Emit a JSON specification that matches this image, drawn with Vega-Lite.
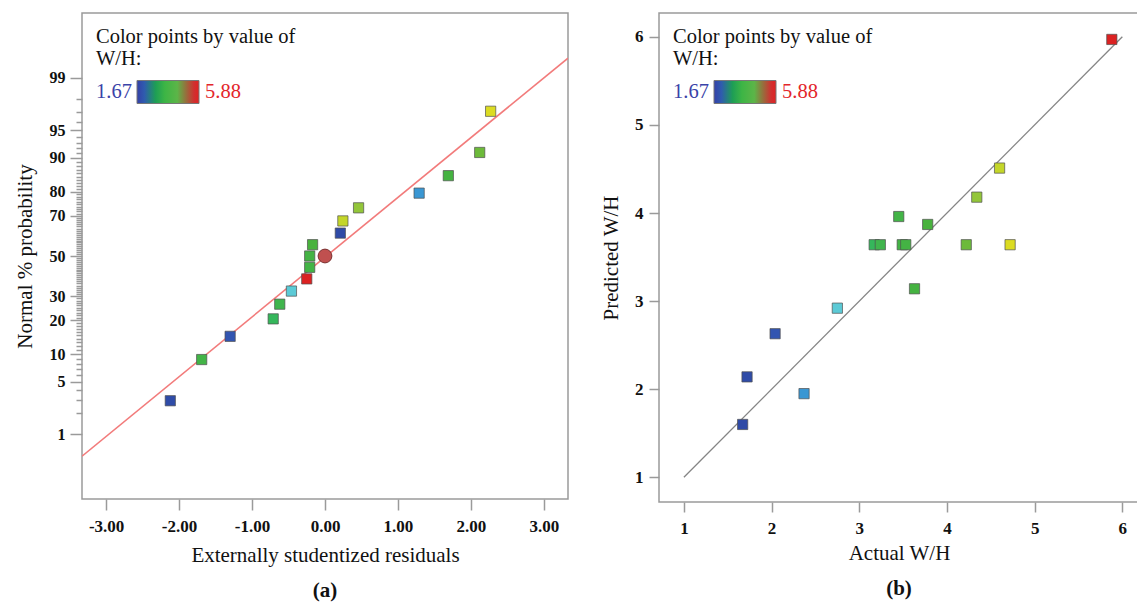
{
  "$schema": "https://vega.github.io/schema/vega-lite/v6.json",
  "background": "white",
  "padding": {"left": 13, "top": 12, "right": 0, "bottom": 0},
  "spacing": 30,
  "config": {
    "font": "Liberation Serif",
    "view": {"stroke": "#9a9a9a", "strokeWidth": 1.5},
    "axis": {"domain": false, "grid": false, "tickColor": "#9a9a9a", "tickWidth": 1.5},
    "title": {"font": "Liberation Serif", "fontSize": 21, "fontWeight": "bold", "color": "#111111"}
  },
  "datasets": {
    "probability": [
      {"run": 1, "residual": -2.12, "probability": 2.94, "quantile": -1.890, "WH": 1.72},
      {"run": 2, "residual": -1.69, "probability": 8.82, "quantile": -1.352, "WH": 3.45},
      {"run": 3, "residual": -1.30, "probability": 14.71, "quantile": -1.049, "WH": 2.04},
      {"run": 4, "residual": -0.71, "probability": 20.59, "quantile": -0.821, "WH": 3.17},
      {"run": 5, "residual": -0.62, "probability": 26.47, "quantile": -0.629, "WH": 3.24},
      {"run": 6, "residual": -0.46, "probability": 32.35, "quantile": -0.458, "WH": 2.75},
      {"run": 7, "residual": -0.25, "probability": 38.24, "quantile": -0.299, "WH": 5.88},
      {"run": 8, "residual": -0.21, "probability": 44.12, "quantile": -0.148, "WH": 3.49},
      {"run": 9, "residual": -0.21, "probability": 50.00, "quantile": 0.0, "WH": 3.53},
      {"run": 10, "residual": -0.17, "probability": 55.88, "quantile": 0.148, "WH": 3.78},
      {"run": 11, "residual": 0.21, "probability": 61.76, "quantile": 0.299, "WH": 1.67},
      {"run": 12, "residual": 0.245, "probability": 67.65, "quantile": 0.458, "WH": 4.60},
      {"run": 13, "residual": 0.46, "probability": 73.53, "quantile": 0.629, "WH": 4.34},
      {"run": 14, "residual": 1.29, "probability": 79.41, "quantile": 0.821, "WH": 2.37},
      {"run": 15, "residual": 1.69, "probability": 85.29, "quantile": 1.049, "WH": 3.63},
      {"run": 16, "residual": 2.12, "probability": 91.18, "quantile": 1.352, "WH": 4.22},
      {"run": 17, "residual": 2.27, "probability": 97.06, "quantile": 1.890, "WH": 4.72}
    ],
    "fitline": [
      {"residual": -3.33, "quantile": -2.614},
      {"residual": 3.33, "quantile": 2.584}
    ],
    "marker": [
      {"residual": 0.0, "quantile": 0.0}
    ],
    "parity": [
      {"actual": 1.67, "predicted": 1.60},
      {"actual": 1.72, "predicted": 2.14},
      {"actual": 2.04, "predicted": 2.63},
      {"actual": 2.37, "predicted": 1.95},
      {"actual": 2.75, "predicted": 2.92},
      {"actual": 3.17, "predicted": 3.64},
      {"actual": 3.24, "predicted": 3.64},
      {"actual": 3.45, "predicted": 3.96},
      {"actual": 3.49, "predicted": 3.64},
      {"actual": 3.53, "predicted": 3.64},
      {"actual": 3.63, "predicted": 3.14},
      {"actual": 3.78, "predicted": 3.87},
      {"actual": 4.22, "predicted": 3.64},
      {"actual": 4.34, "predicted": 4.18},
      {"actual": 4.60, "predicted": 4.51},
      {"actual": 4.72, "predicted": 3.64},
      {"actual": 5.88, "predicted": 5.97}
    ],
    "diagonal": [
      {"actual": 1, "predicted": 1},
      {"actual": 6, "predicted": 6}
    ]
  },
  "hconcat": [
    {
      "width": 486,
      "height": 486,
      "title": {"text": "(a)", "orient": "bottom", "anchor": "middle", "frame": "group", "offset": 15},
      "encoding": {
        "x": {
          "field": "residual", "type": "quantitative",
          "scale": {"domain": [-3.33, 3.33], "nice": false, "zero": false},
          "axis": {
            "values": [-3, -2, -1, 0, 1, 2, 3],
            "labelExpr": "replace(format(datum.value, '.2f'), '\u2212', '-')",
            "title": "Externally studentized residuals", "tickSize": 11, "labelPadding": 8, "titlePadding": 10,
            "labelFont": "Liberation Serif", "labelFontSize": 17, "labelFontWeight": "bold", "labelColor": "#111111",
            "titleFont": "Liberation Serif", "titleFontSize": 21, "titleFontWeight": "normal", "titleColor": "#111111"
          }
        },
        "y": {
          "field": "quantile", "type": "quantitative",
          "scale": {"domain": [-3.173, 3.173], "nice": false, "zero": false},
          "axis": {
            "title": "Normal % probability", "titlePadding": 14, "labelOverlap": false, "labelFlush": false, "labelPadding": 5,
            "labelFont": "Liberation Serif", "labelFontSize": 16, "labelFontWeight": "bold", "labelColor": "#111111",
            "titleFont": "Liberation Serif", "titleFontSize": 21, "titleFontWeight": "normal", "titleColor": "#111111",
            "values": [-2.3263, -2.0537, -1.8808, -1.7507, -1.6449, -1.5548, -1.4758, -1.4051, -1.3408, -1.2816, -1.2265, -1.175, -1.1264, -1.0803, -1.0364, -0.9945, -0.9542, -0.9154, -0.8779, -0.8416, -0.8064, -0.7722, -0.7388, -0.7063, -0.6745, -0.6433, -0.6128, -0.5828, -0.5534, -0.5244, -0.4959, -0.4677, -0.4399, -0.4125, -0.3853, -0.3585, -0.3319, -0.3055, -0.2793, -0.2533, -0.2275, -0.2019, -0.1764, -0.151, -0.1257, -0.1004, -0.0753, -0.0502, -0.0251, 0, 0.0251, 0.0502, 0.0753, 0.1004, 0.1257, 0.151, 0.1764, 0.2019, 0.2275, 0.2533, 0.2793, 0.3055, 0.3319, 0.3585, 0.3853, 0.4125, 0.4399, 0.4677, 0.4959, 0.5244, 0.5534, 0.5828, 0.6128, 0.6433, 0.6745, 0.7063, 0.7388, 0.7722, 0.8064, 0.8416, 0.8779, 0.9154, 0.9542, 0.9945, 1.0364, 1.0803, 1.1264, 1.175, 1.2265, 1.2816, 1.3408, 1.4051, 1.4758, 1.5548, 1.6449, 1.7507, 1.8808, 2.0537, 2.3263],
            "labelExpr": "indexof([1, 5, 10, 20, 30, 50, 70, 80, 90, 95, 99], round(100 * cumulativeNormal(datum.value))) >= 0 ? '' + round(100 * cumulativeNormal(datum.value)) : ''",
            "tickSize": {"condition": {"test": "indexof([1, 5, 10, 20, 30, 50, 70, 80, 90, 95, 99], round(100 * cumulativeNormal(datum.value))) >= 0", "value": 12}, "value": 6}
          }
        }
      },
      "layer": [
        {
          "data": {"name": "fitline"},
          "mark": {"type": "line", "color": "#f27b7b", "strokeWidth": 1.6, "clip": true}
        },
        {
          "data": {"name": "probability"},
          "mark": {"type": "point", "shape": "square", "filled": true, "size": 105, "opacity": 1, "stroke": "#505050", "strokeWidth": 0.7},
          "encoding": {
            "color": {
              "field": "WH", "type": "quantitative",
              "scale": {"domain": [1.67, 2.1, 2.37, 2.75, 3.2, 3.8, 4.22, 4.34, 4.72, 5.88], "range": ["#2f4aa6", "#3357b3", "#3a97d3", "#5ccad6", "#3fb54e", "#48b23c", "#6cba3a", "#93c63a", "#dcdc22", "#dc2222"]},
              "legend": {
                "title": ["Color points by value of", "W/H:"], "values": [1.67, 5.88], "format": ".2f",
                "orient": "top-left", "offset": 14, "direction": "horizontal", "padding": 0,
                "gradientLength": 62, "gradientThickness": 23, "gradientStrokeColor": "#777777", "gradientStrokeWidth": 1,
                "titleFont": "Liberation Serif", "titleFontSize": 20.5, "titleFontWeight": "normal", "titleColor": "#111111",
                "titleLineHeight": 22, "titlePadding": 11, "titleLimit": 400,
                "labelFont": "Liberation Serif", "labelFontSize": 20.5, "labelOffset": -11.5,
                "labelColor": {"expr": "datum.value < 3 ? '#3a43a8' : '#e3262b'"},
                "encoding": {
                  "gradient": {
                    "x": {"value": 41},
                    "fill": {"value": {"gradient": "linear", "x1": 0, "y1": 0, "x2": 1, "y2": 0, "stops": [
                      {"offset": 0, "color": "#3440a8"},
                      {"offset": 0.12, "color": "#2f5cae"},
                      {"offset": 0.3, "color": "#1e9e55"},
                      {"offset": 0.45, "color": "#3db545"},
                      {"offset": 0.65, "color": "#5cb548"},
                      {"offset": 0.8, "color": "#9a6a3c"},
                      {"offset": 0.92, "color": "#d03030"},
                      {"offset": 1, "color": "#e02222"}
                    ]}}
                  },
                  "labels": {
                    "align": {"value": "left"},
                    "baseline": {"value": "middle"},
                    "dx": {"condition": {"test": "datum.value < 3", "value": 0}, "value": 47}
                  }
                }
              }
            }
          }
        },
        {
          "data": {"name": "marker"},
          "mark": {"type": "point", "shape": "circle", "filled": true, "size": 190, "opacity": 1, "color": "#c0504f", "stroke": "#7a3030", "strokeWidth": 1}
        }
      ]
    },
    {
      "width": 480,
      "height": 489,
      "title": {"text": "(b)", "orient": "bottom", "anchor": "middle", "frame": "group", "offset": 15},
      "encoding": {
        "x": {
          "field": "actual", "type": "quantitative",
          "scale": {"domain": [0.716, 6.19], "nice": false, "zero": false},
          "axis": {
            "values": [1, 2, 3, 4, 5, 6], "format": "d", "title": "Actual W/H", "tickSize": 10, "labelPadding": 8, "titlePadding": 6,
            "labelFont": "Liberation Serif", "labelFontSize": 17, "labelFontWeight": "bold", "labelColor": "#111111",
            "titleFont": "Liberation Serif", "titleFontSize": 21, "titleFontWeight": "normal", "titleColor": "#111111"
          }
        },
        "y": {
          "field": "predicted", "type": "quantitative",
          "scale": {"domain": [0.72, 6.27], "nice": false, "zero": false},
          "axis": {
            "values": [1, 2, 3, 4, 5, 6], "format": "d", "title": "Predicted W/H", "tickSize": 10, "labelPadding": 6, "titlePadding": 13,
            "labelFont": "Liberation Serif", "labelFontSize": 17, "labelFontWeight": "bold", "labelColor": "#111111",
            "titleFont": "Liberation Serif", "titleFontSize": 21, "titleFontWeight": "normal", "titleColor": "#111111"
          }
        }
      },
      "layer": [
        {
          "data": {"name": "diagonal"},
          "mark": {"type": "line", "color": "#858585", "strokeWidth": 1.3}
        },
        {
          "data": {"name": "parity"},
          "mark": {"type": "point", "shape": "square", "filled": true, "size": 105, "opacity": 1, "stroke": "#505050", "strokeWidth": 0.7},
          "encoding": {
            "color": {
              "field": "actual", "type": "quantitative",
              "scale": {"domain": [1.67, 2.1, 2.37, 2.75, 3.2, 3.8, 4.22, 4.34, 4.72, 5.88], "range": ["#2f4aa6", "#3357b3", "#3a97d3", "#5ccad6", "#3fb54e", "#48b23c", "#6cba3a", "#93c63a", "#dcdc22", "#dc2222"]},
              "legend": {
                "title": ["Color points by value of", "W/H:"], "values": [1.67, 5.88], "format": ".2f",
                "orient": "top-left", "offset": 14, "direction": "horizontal", "padding": 0,
                "gradientLength": 62, "gradientThickness": 23, "gradientStrokeColor": "#777777", "gradientStrokeWidth": 1,
                "titleFont": "Liberation Serif", "titleFontSize": 20.5, "titleFontWeight": "normal", "titleColor": "#111111",
                "titleLineHeight": 22, "titlePadding": 11, "titleLimit": 400,
                "labelFont": "Liberation Serif", "labelFontSize": 20.5, "labelOffset": -11.5,
                "labelColor": {"expr": "datum.value < 3 ? '#3a43a8' : '#e3262b'"},
                "encoding": {
                  "gradient": {
                    "x": {"value": 41},
                    "fill": {"value": {"gradient": "linear", "x1": 0, "y1": 0, "x2": 1, "y2": 0, "stops": [
                      {"offset": 0, "color": "#3440a8"},
                      {"offset": 0.12, "color": "#2f5cae"},
                      {"offset": 0.3, "color": "#1e9e55"},
                      {"offset": 0.45, "color": "#3db545"},
                      {"offset": 0.65, "color": "#5cb548"},
                      {"offset": 0.8, "color": "#9a6a3c"},
                      {"offset": 0.92, "color": "#d03030"},
                      {"offset": 1, "color": "#e02222"}
                    ]}}
                  },
                  "labels": {
                    "align": {"value": "left"},
                    "baseline": {"value": "middle"},
                    "dx": {"condition": {"test": "datum.value < 3", "value": 0}, "value": 47}
                  }
                }
              }
            }
          }
        }
      ]
    }
  ],
  "resolve": {"legend": {"color": "independent"}, "scale": {"color": "independent"}}
}
